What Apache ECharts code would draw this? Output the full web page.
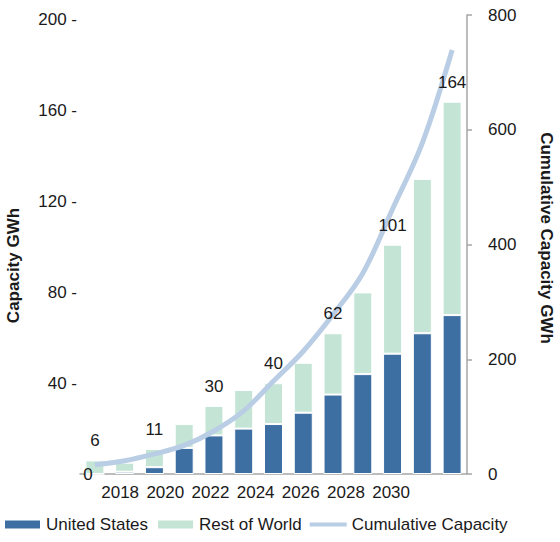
<!DOCTYPE html>
<html>
<head>
<meta charset="utf-8">
<script src="https://cdn.jsdelivr.net/npm/echarts@6/dist/echarts.min.js"></script>
<style>
  html, body { margin: 0; padding: 0; background: #fff; }
  #chart { width: 560px; height: 542px; }
</style>
</head>
<body>
<div id="chart"></div>
<script>
// capacity chart: stacked bars (left axis) + cumulative line (right axis)

var chart = echarts.init(document.getElementById('chart'), null, {renderer: 'svg'});

var categories = ['1', '2', '3', '4', '5', '6', '7', '8', '9', '10', '11', '12', '13'];
var unitedStates = [0, 1, 3, 11.5, 17, 20, 22, 27, 35, 44, 53, 62, 70];
var restOfWorld = [6, 4, 8, 10.5, 13, 17, 18, 22, 27, 36, 48, 68, 94];
var cumulative = [16, 23, 35, 50, 75, 110, 162, 214, 278, 350, 462, 577, 739];
var totalLabels = ['6', '', '11', '', '30', '', '40', '', '62', '', '101', '', '164'];
var yearTicks = [2018, 2020, 2022, 2024, 2026, 2028, 2030];

var font = "'Liberation Sans', Arial, sans-serif";
var axisGray = '#A6A6A6';
var textColor = '#1a1a1a';
var fs = 17;

// bar tops, so the total labels can sit above the line
var totals = unitedStates.map(function (v, i) { return v + restOfWorld[i]; });

option = {
    animation: false,
    textStyle: {fontFamily: font},
    grid: [
        {left: 80, right: 93, top: 15, bottom: 68, outerBoundsMode: 'none'},
        // only used to place the year labels
        {left: 75, right: 78.6, top: 15, bottom: 68, outerBoundsMode: 'none'}
    ],
    legend: {
        left: 3,
        bottom: 9,
        padding: 0,
        itemWidth: 37,
        itemHeight: 10,
        itemGap: 8,
        textStyle: {fontSize: fs, color: textColor, fontFamily: font},
        data: [
            {name: 'United States', icon: 'rect'},
            {name: 'Rest of World', icon: 'rect'},
            {name: 'Cumulative Capacity', icon: 'path://M0,0H37V4H0Z'}
        ]
    },
    xAxis: [
        {
            type: 'category',
            gridIndex: 0,
            data: categories,
            axisLine: {lineStyle: {color: axisGray, width: 1.5}},
            axisTick: {show: false},
            axisLabel: {show: false}
        },
        {
            type: 'value',
            gridIndex: 1,
            min: 2016,
            max: 2034,
            interval: 2,
            splitLine: {show: false},
            axisLine: {show: false},
            axisTick: {show: false},
            axisLabel: {
                margin: 10,
                fontSize: fs,
                color: textColor,
                formatter: function (v) {
                    return yearTicks.indexOf(v) >= 0 ? String(v) : '';
                }
            }
        }
    ],
    yAxis: [
        {
            type: 'value',
            gridIndex: 0,
            min: 0,
            max: 202.2,
            interval: 40,
            name: 'Capacity GWh',
            nameLocation: 'middle',
            nameRotate: 90,
            nameGap: 58,
            nameTextStyle: {fontSize: fs, fontWeight: 'bold', color: textColor, padding: [0, 42, 0, 0]},
            splitLine: {show: false},
            axisLine: {show: false},
            axisTick: {show: false},
            axisLabel: {
                margin: 3,
                fontSize: fs,
                color: textColor,
                formatter: function (v) {
                    return (v > 0 && v % 40 === 0) ? v + ' -' : '';
                }
            }
        },
        {
            type: 'value',
            gridIndex: 0,
            position: 'right',
            min: 0,
            max: 800,
            interval: 200,
            name: 'Cumulative Capacity GWh',
            nameLocation: 'middle',
            nameRotate: -90,
            nameGap: 71,
            nameTextStyle: {fontSize: fs, fontWeight: 'bold', color: textColor, padding: [0, 13, 0, 0]},
            splitLine: {show: false},
            axisLine: {show: true, lineStyle: {color: axisGray, width: 1.5}},
            axisTick: {show: true, length: 5, lineStyle: {color: axisGray, width: 1.5}},
            axisLabel: {margin: 21, fontSize: fs, color: textColor}
        },
        {
            type: 'value',
            gridIndex: 1,
            show: false
        }
    ],
    series: [
        {
            name: 'United States',
            type: 'bar',
            stack: 'cap',
            barWidth: 19,
            data: unitedStates,
            itemStyle: {color: '#3E6FA3', borderColor: '#fff', borderWidth: 1}
        },
        {
            name: 'Rest of World',
            type: 'bar',
            stack: 'cap',
            barWidth: 19,
            data: restOfWorld,
            itemStyle: {color: '#C4E5D5', borderColor: '#fff', borderWidth: 1}
        },
        {
            name: 'Cumulative Capacity',
            type: 'line',
            yAxisIndex: 1,
            smooth: 0.35,
            symbol: 'none',
            data: cumulative,
            lineStyle: {color: '#B9CDE5', width: 5},
            itemStyle: {color: '#B9CDE5'}
        },
        {
            name: 'totals',
            type: 'scatter',
            symbolSize: 0,
            data: totals,
            z: 5,
            silent: true,
            itemStyle: {opacity: 1},
            label: {
                show: true,
                position: 'top',
                distance: 11,
                fontSize: fs,
                color: textColor,
                fontFamily: font,
                formatter: function (p) {
                    return totalLabels[p.dataIndex];
                }
            }
        }
    ]
};
chart.setOption(option);

// stray "0" that sits on the baseline next to the first bar
var zeroX = chart.convertToPixel({xAxisIndex: 0}, categories[0]) - 7;
var zeroY = chart.convertToPixel({yAxisIndex: 0}, 0);
chart.setOption({
    graphic: [{
        type: 'text',
        x: zeroX,
        y: zeroY,
        style: {text: '0', fontSize: fs, fill: textColor, fontFamily: font, align: 'center', verticalAlign: 'middle'},
        z: 10
    }]
});
</script>
</body>
</html>
